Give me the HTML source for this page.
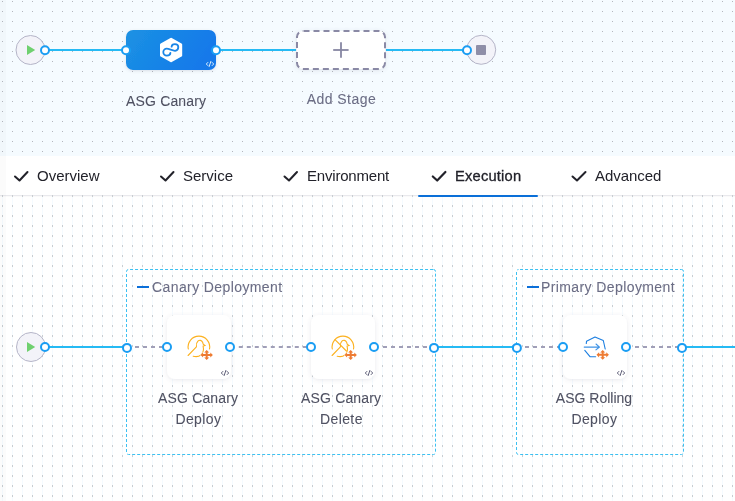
<!DOCTYPE html>
<html><head><meta charset="utf-8">
<style>
html,body{margin:0;padding:0;width:735px;height:501px;overflow:hidden;background:#fff;font-family:"Liberation Sans",sans-serif;}
.abs{position:absolute;}
#root{position:relative;width:735px;height:501px;overflow:hidden;}
.lbl,.tab,.gtitle{will-change:transform;}
.lbl{position:absolute;white-space:nowrap;color:#4f5162;font-size:14px;line-height:21px;-webkit-text-stroke:0.08px #4f5162;}
.tab{position:absolute;top:155.5px;height:40px;line-height:40px;font-size:15px;color:#22222a;white-space:nowrap;}
.tab b{font-weight:700;}
.gtitle{position:absolute;top:277.9px;font-size:14px;line-height:18px;color:#6b6d85;white-space:nowrap;-webkit-text-stroke:0.08px #6b6d85;}
.gbar{position:absolute;width:12px;height:2px;background:#0b6fd9;top:286px;}
</style></head>
<body><div id="root">
<svg class="abs" style="left:0;top:0" width="735" height="501" viewBox="0 0 735 501">
  <defs>
    <pattern id="dotsTop" x="0" y="0" width="10" height="10" patternUnits="userSpaceOnUse">
      <rect x="2" y="1" width="1" height="1" fill="#b3b6bd"/>
    </pattern>
    <pattern id="gridExec" x="0" y="195" width="10" height="10" patternUnits="userSpaceOnUse">
      <rect x="2" y="0" width="1" height="10" fill="#f5fbff"/>
      <rect x="2" y="0" width="1" height="2" fill="#c9cdd1"/>
    </pattern>
    <linearGradient id="stageGrad" x1="0" y1="0" x2="1" y2="0.3">
      <stop offset="0" stop-color="#1c92e3"/>
      <stop offset="1" stop-color="#1279ea"/>
    </linearGradient>
    <linearGradient id="leftShade" x1="0" y1="0" x2="1" y2="0">
      <stop offset="0" stop-color="#000" stop-opacity="0.035"/>
      <stop offset="1" stop-color="#000" stop-opacity="0"/>
    </linearGradient>
    <filter id="sh" x="-30%" y="-30%" width="160%" height="170%">
      <feDropShadow dx="0" dy="1" stdDeviation="1.5" flood-color="#60617a" flood-opacity="0.18"/>
    </filter>
    <filter id="sh2" x="-30%" y="-30%" width="160%" height="170%">
      <feDropShadow dx="0" dy="1" stdDeviation="2" flood-color="#60617a" flood-opacity="0.14"/>
    </filter>
  </defs>

  <!-- top canvas -->
  <rect x="0" y="0" width="735" height="156" fill="#f5fbff"/>
  <rect x="0" y="0" width="735" height="156" fill="url(#dotsTop)"/>
  <!-- tabs -->
  <rect x="0" y="156" width="735" height="39" fill="#ffffff"/>
  <!-- exec canvas -->
  <rect x="0" y="195" width="735" height="306" fill="#ffffff"/>
  <rect x="0" y="195" width="735" height="1" fill="#e3e3e8" fill-opacity="0.8"/>
  <rect x="0" y="196" width="735" height="1" fill="#000" fill-opacity="0.02"/>
  <rect x="0" y="195" width="735" height="306" fill="url(#gridExec)"/>
  <rect x="0" y="0" width="6" height="501" fill="#000" fill-opacity="0.014"/>
  <!-- execution underline -->
  <rect x="418" y="195" width="120" height="2" rx="1" fill="#0a6fd8"/>

  <!-- ===== TOP PIPELINE ===== -->
  <g fill="none" stroke="#25baf4" stroke-width="2">
    <line x1="45" y1="50" x2="126" y2="50"/>
    <line x1="216" y1="50" x2="296" y2="50"/>
    <line x1="386" y1="50" x2="467" y2="50"/>
  </g>
  <!-- start node -->
  <circle cx="30.5" cy="50" r="14.5" fill="#f3f3f9" stroke="#b5b5c8" stroke-width="1"/>
  <path d="M27 45 L35.2 50 L27 55 Z" fill="#6fd06f"/>
  <!-- stage node -->
  <rect x="126" y="30" width="90" height="40" rx="7" fill="url(#stageGrad)" filter="url(#sh)"/>
  <path d="M171.1 39.1 L180.9 44.6 L180.9 55.4 L171.1 60.9 L161.3 55.4 L161.3 44.6 Z" fill="#fff" stroke="#fff" stroke-width="2.6" stroke-linejoin="round"/>
  <path d="M170.4 52.8 C170.4 54.8 168.6 55.7 166.8 55.7 C164.8 55.7 163.3 54 163.3 52.1 C163.3 50.1 164.9 48.7 166.7 48.7 C169.2 48.7 172.4 50.9 175.1 50.8 C177 50.7 178.3 49 178.3 47.1 C178.3 45.3 176.8 44.1 174.9 44.1 C173.1 44.1 171.7 45.3 171.6 46.7" fill="none" stroke="#1a86e7" stroke-width="1.8" stroke-linecap="round"/>
  <g fill="none" stroke="#d8ebfc" stroke-width="1" stroke-linecap="round"><path d="M207.9 62.4 L206.3 64 L207.9 65.6 M210.9 61.4 L209.1 66.6 M212.1 62.4 L213.7 64 L212.1 65.6"/></g>
  <!-- add stage -->
  <rect x="297" y="31" width="88" height="38" rx="6" fill="#fff" stroke="#8a89a5" stroke-width="2" stroke-dasharray="6 4" stroke-dashoffset="9.5" filter="url(#sh2)"/>
  <g stroke="#8686a2" stroke-width="1.8"><line x1="333.2" y1="50" x2="348.6" y2="50"/><line x1="341" y1="42.2" x2="341" y2="57.8"/></g>
  <!-- end node -->
  <circle cx="481.2" cy="49.8" r="14.5" fill="#f3f3f9" stroke="#b5b5c8" stroke-width="1"/>
  <rect x="476" y="45" width="10" height="10" rx="1" fill="#8f8ea8"/>
  <!-- connectors top -->
  <g fill="#fff" stroke="#1a9df3" stroke-width="2">
    <circle cx="45" cy="50.3" r="4"/>
    <circle cx="126" cy="50.3" r="4"/>
    <circle cx="216" cy="50.3" r="4"/>
    <circle cx="467" cy="50.3" r="4"/>
  </g>

  <!-- ===== EXECUTION ===== -->
  <!-- groups -->
  <g fill="none" stroke="#3cc1f2" stroke-width="1" stroke-dasharray="3 2"><path d="M128.5 269.5 H433.5" stroke-dashoffset="3.45"/><path d="M433.5 269.5 A2 2 0 0 1 435.5 271.5 V452.5 A2 2 0 0 1 433.5 454.5 H128.5 A2 2 0 0 1 126.5 452.5 V271.5 A2 2 0 0 1 128.5 269.5"/></g>
  <g fill="none" stroke="#3cc1f2" stroke-width="1" stroke-dasharray="3 2"><path d="M518.5 269.5 H681.5" stroke-dashoffset="3.45"/><path d="M681.5 269.5 A2 2 0 0 1 683.5 271.5 V452.5 A2 2 0 0 1 681.5 454.5 H518.5 A2 2 0 0 1 516.5 452.5 V271.5 A2 2 0 0 1 518.5 269.5"/></g>
  <!-- solid links -->
  <g fill="none" stroke="#25baf4" stroke-width="2">
    <line x1="45" y1="347" x2="127" y2="347"/>
    <line x1="435" y1="347" x2="516" y2="347"/>
    <line x1="683" y1="347" x2="735" y2="347"/>
  </g>
  <!-- dashed links -->
  <g fill="none" stroke="#a09fb8" stroke-width="2" stroke-dasharray="4 4">
    <line x1="135" y1="347" x2="167" y2="347"/>
    <line x1="238.8" y1="347" x2="311" y2="347"/>
    <line x1="383" y1="347" x2="430" y2="347"/>
    <line x1="525" y1="347" x2="563" y2="347"/>
    <line x1="635" y1="347" x2="678" y2="347"/>
  </g>
  <!-- start node -->
  <circle cx="31" cy="347" r="14.5" fill="#f3f3f9" stroke="#b5b5c8" stroke-width="1"/>
  <path d="M27 342 L35.2 347 L27 352 Z" fill="#6fd06f"/>
  <!-- step boxes -->
  <rect x="167" y="315" width="64" height="64" rx="8" fill="#fff" filter="url(#sh2)"/>
  <rect x="311" y="315" width="64" height="64" rx="8" fill="#fff" filter="url(#sh2)"/>
  <rect x="563" y="315" width="64" height="64" rx="8" fill="#fff" filter="url(#sh2)"/>
  <!-- canary icon 1 -->
  <g fill="none" stroke="#fcb11f" stroke-width="1.1" stroke-linecap="round">
    <path d="M188.3 349 A10.8 10.8 0 1 1 209.5 349"/>
    <path d="M188.1 355.5 L196.4 346.9 C196 344.5 196.7 342.4 197.9 341.2 C199.4 339.8 201.6 340 202.6 342.2 L203.2 344.2 L205 345.5 L203.1 346.1 C203.8 349 203.3 352.6 201 354.8 C199 356.6 196 356.9 193.2 356.2"/>
  </g>
  <!-- canary icon 2 (delete) -->
  <g fill="none" stroke="#fcb11f" stroke-width="1.1" stroke-linecap="round">
    <path d="M332.3 349 A10.8 10.8 0 1 1 353.5 349"/>
    <path d="M332.1 355.5 L340.4 346.9 C340 344.5 340.7 342.4 341.9 341.2 C343.4 339.8 345.6 340 346.6 342.2 L347.2 344.2 L349 345.5 L347.1 346.1 C347.8 349 347.3 352.6 345 354.8 C343 356.6 340 356.9 337.2 356.2"/>
    <path d="M335 339.6 L346.4 351"/>
  </g>
  <!-- rolling icon -->
  <g fill="none" stroke="#1b7ee0" stroke-width="1.1" stroke-linecap="round" stroke-linejoin="round">
    <path d="M586.3 343.5 L586.5 341.2 L595 337 L603.3 340.5 L605.2 349"/>
    <path d="M584.8 350.4 L590.2 356.8 L595.6 356.8"/>
    <path d="M584.2 347.1 L599.5 347.1 M596 344 L599.5 347.1 L596 349.8" stroke="#3f93e6"/>
  </g>
  <!-- orange crosses -->
  <g fill="#ee7b32">
    <path d="M0 -4.9 L2.5 -2.4 L1 -2.4 L1 -1 L3.6 -1 L3.6 -2.6 L6.2 0 L3.6 2.6 L3.6 1 L1 1 L1 2.4 L2.5 2.4 L0 4.9 L-2.5 2.4 L-1 2.4 L-1 1 L-3.6 1 L-3.6 2.6 L-6.2 0 L-3.6 -2.6 L-3.6 -1 L-1 -1 L-1 -2.4 L-2.5 -2.4 Z" stroke="#fff" stroke-width="1" paint-order="stroke" stroke-linejoin="round" transform="translate(206.7 355)"/>
    <path d="M0 -4.9 L2.5 -2.4 L1 -2.4 L1 -1 L3.6 -1 L3.6 -2.6 L6.2 0 L3.6 2.6 L3.6 1 L1 1 L1 2.4 L2.5 2.4 L0 4.9 L-2.5 2.4 L-1 2.4 L-1 1 L-3.6 1 L-3.6 2.6 L-6.2 0 L-3.6 -2.6 L-3.6 -1 L-1 -1 L-1 -2.4 L-2.5 -2.4 Z" stroke="#fff" stroke-width="1" paint-order="stroke" stroke-linejoin="round" transform="translate(350.7 355)"/>
    <path d="M0 -4.9 L2.5 -2.4 L1 -2.4 L1 -1 L3.6 -1 L3.6 -2.6 L6.2 0 L3.6 2.6 L3.6 1 L1 1 L1 2.4 L2.5 2.4 L0 4.9 L-2.5 2.4 L-1 2.4 L-1 1 L-3.6 1 L-3.6 2.6 L-6.2 0 L-3.6 -2.6 L-3.6 -1 L-1 -1 L-1 -2.4 L-2.5 -2.4 Z" stroke="#fff" stroke-width="1" paint-order="stroke" stroke-linejoin="round" transform="translate(602.7 354.8)"/>
  </g>
  <!-- code icons -->
  <g fill="none" stroke="#5f5f78" stroke-width="1" stroke-linecap="round">
    <path d="M222.9 371.4 L221.3 373 L222.9 374.6 M225.9 370.4 L224.1 375.6 M227.1 371.4 L228.7 373 L227.1 374.6"/>
    <path d="M222.9 371.4 L221.3 373 L222.9 374.6 M225.9 370.4 L224.1 375.6 M227.1 371.4 L228.7 373 L227.1 374.6" transform="translate(144 0)"/>
    <path d="M222.9 371.4 L221.3 373 L222.9 374.6 M225.9 370.4 L224.1 375.6 M227.1 371.4 L228.7 373 L227.1 374.6" transform="translate(396 0)"/>
  </g>
  <!-- connectors exec -->
  <g fill="#fff" stroke="#1a9df3" stroke-width="2">
    <circle cx="45" cy="347" r="4"/>
    <circle cx="127" cy="347.9" r="4"/>
    <circle cx="167" cy="347" r="4"/>
    <circle cx="230" cy="347" r="4"/>
    <circle cx="311" cy="347" r="4"/>
    <circle cx="374" cy="347" r="4"/>
    <circle cx="434" cy="347.9" r="4"/>
    <circle cx="516.9" cy="347.9" r="4"/>
    <circle cx="563" cy="347" r="4"/>
    <circle cx="626" cy="347" r="4"/>
    <circle cx="682" cy="347.9" r="4"/>
  </g>
</svg>

<!-- top labels -->
<div class="lbl" style="left:66px;top:91.2px;width:200px;text-align:center;letter-spacing:0.17px;padding-left:0.17px">ASG Canary</div>
<div class="lbl" style="left:240.5px;top:88.9px;width:200px;text-align:center;color:#6b6d85;-webkit-text-stroke:0.08px #6b6d85;letter-spacing:0.45px;padding-left:0.45px">Add Stage</div>

<!-- tabs -->
<svg class="abs" style="left:0;top:155px" width="735" height="40">
  <g fill="none" stroke="#22222a" stroke-width="2" stroke-linecap="round" stroke-linejoin="round">
    <path d="M15 21.5 L19.5 25.5 L27.5 17"/>
    <path d="M161 21.5 L165.5 25.5 L173.5 17"/>
    <path d="M284.5 21.5 L289 25.5 L297 17"/>
    <path d="M432.8 21.5 L437.2 25.5 L445.4 17" stroke-width="2.2"/>
    <path d="M572.5 21.5 L577 25.5 L585.5 17"/>
  </g>
</svg>
<div class="tab" style="left:37px">Overview</div>
<div class="tab" style="left:182.5px">Service</div>
<div class="tab" style="left:306.5px;letter-spacing:-0.2px">Environment</div>
<div class="tab" style="left:454.5px;font-size:14.7px;letter-spacing:0.2px;-webkit-text-stroke:0.3px #22222a">Execution</div>
<div class="tab" style="left:594.5px;letter-spacing:-0.05px">Advanced</div>

<!-- group titles -->
<div class="gbar" style="left:137px"></div>
<div class="gtitle" style="left:151.5px;letter-spacing:0.4px">Canary Deployment</div>
<div class="gbar" style="left:527px"></div>
<div class="gtitle" style="left:541.3px;letter-spacing:0.4px">Primary Deployment</div>

<!-- step labels -->
<div class="lbl" style="left:97.5px;top:388px;width:200px;text-align:center;letter-spacing:0.17px;padding-left:0.17px">ASG Canary</div>
<div class="lbl" style="left:97.6px;top:408.8px;width:200px;text-align:center;letter-spacing:0.4px;padding-left:0.4px">Deploy</div>
<div class="lbl" style="left:241.45px;top:388px;width:200px;text-align:center;letter-spacing:0.17px;padding-left:0.17px">ASG Canary</div>
<div class="lbl" style="left:241.35px;top:408.8px;width:200px;text-align:center;letter-spacing:0.4px;padding-left:0.4px">Delete</div>
<div class="lbl" style="left:493.65px;top:388px;width:200px;text-align:center;letter-spacing:0px">ASG Rolling</div>
<div class="lbl" style="left:493.75px;top:408.8px;width:200px;text-align:center;letter-spacing:0.4px;padding-left:0.4px">Deploy</div>
</div></body></html>
